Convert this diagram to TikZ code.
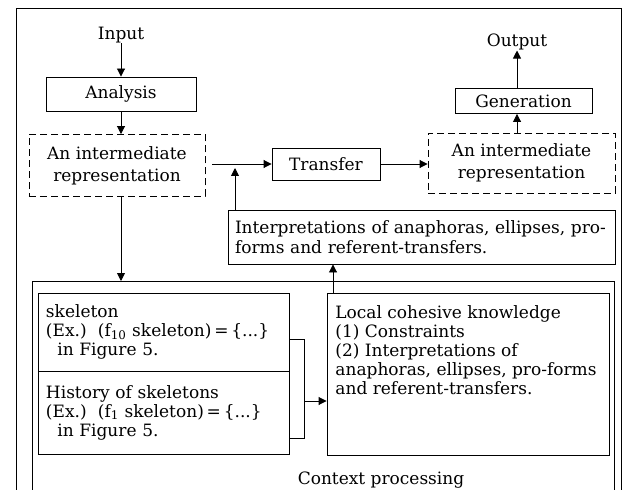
\documentclass[tikz,border=0pt]{standalone}
\usepackage{fontspec}
\setmainfont{DejaVu Serif}
\usetikzlibrary{arrows.meta,calc}
\begin{document}
\begin{tikzpicture}[x=1bp,y=-1bp,
  line width=0.9bp,
  every node/.style={font=\fontsize{17bp}{19bp}\selectfont, inner sep=0pt},
  box/.style={draw, rectangle, align=center},
  dbox/.style={draw, dash pattern=on 7bp off 4bp, rectangle, align=center, execute at begin node={\fontsize{17bp}{22bp}\selectfont}},
  lbox/.style={draw, rectangle, align=left, inner xsep=8bp},
  arr/.style={-{Triangle[length=8bp,width=8bp]}},
]
\useasboundingbox (0,0) rectangle (624,490);
% frames
\draw (16,495) -- (16,8) -- (621,8) -- (621,495);
\draw (32,495) -- (32,281) -- (614,281) -- (614,495);
% nodes
\node (input) at (121,35) {Input};
\node[box, minimum width=150bp, minimum height=34bp] (analysis) at (121,94) {Analysis};
\node[dbox, minimum width=176bp, minimum height=62bp] (ir1) at (117,165.5) {An intermediate\\representation};
\node[box, minimum width=108bp, minimum height=32bp] (transfer) at (326,164) {Transfer};
\node[dbox, minimum width=187bp, minimum height=60bp] (ir2) at (521.5,163) {An intermediate\\representation};
\node[box, minimum width=137bp, minimum height=25bp] (generation) at (523.5,101) {Generation};
\node (output) at (517,42) {Output};
\node[lbox, inner xsep=7bp, text width=373bp, minimum height=54bp, execute at begin node={\fontsize{17bp}{20.5bp}\selectfont}] (interp) at (421.5,237)
  {Interpretations of anaphoras, ellipses, pro-\\forms and referent-transfers.};
\node[lbox, text width=235bp, minimum height=78bp] (skel) at (163.5,332)
  {skeleton\\(Ex.)\ \ (f\textsubscript{10} skeleton)\,=\,\{...\}\\\ \ in Figure 5.};
\node[lbox, text width=235bp, minimum height=83bp] (hist) at (163.5,412.5)
  {History of skeletons\\(Ex.)\ \ (f\textsubscript{1} skeleton)\,=\,\{...\}\\\ \ in Figure 5.};
\node[draw, rectangle, minimum width=282bp, minimum height=162bp] (local) at (468,374) {};
\node[anchor=north west, align=left] (localtxt) at (335,305)
  {Local cohesive knowledge\\(1) Constraints\\(2) Interpretations of\\anaphoras, ellipses, pro-forms\\and referent-transfers.};
\node (ctxlabel) at (381,480) {Context processing};
% coordinates
\coordinate (ctxtop) at (121,281);
\coordinate (feed) at (235,168);
\coordinate (lup) at (333,268);
\coordinate (b1) at (304,339);
\coordinate (b2) at (304,438);
\coordinate (br) at (304,401);
% connectors
\draw[arr] (input.south) -- (analysis.north);
\draw[arr] (analysis.south) -- (analysis.south |- ir1.north);
\draw[arr, shorten <=7bp] (ir1.east |- transfer.west) -- (transfer.west);
\draw[arr] (transfer.east) -- (transfer.east -| ir2.west);
\draw[arr] (ir2.north -| output) -- (generation.south -| output);
\draw[arr] (generation.north -| output) -- (output.south);
\draw[arr] (ir1.south -| ctxtop) -- (ctxtop);
\draw[arr] (interp.north -| feed) -- (feed);
\draw[arr] (local.north -| lup) -- (interp.south -| lup);
\draw (skel.east |- b1) -- (b1) -- (b2) -- (hist.east |- b2);
\draw[arr] (br) -- (br -| local.west);
\end{tikzpicture}
\end{document}
